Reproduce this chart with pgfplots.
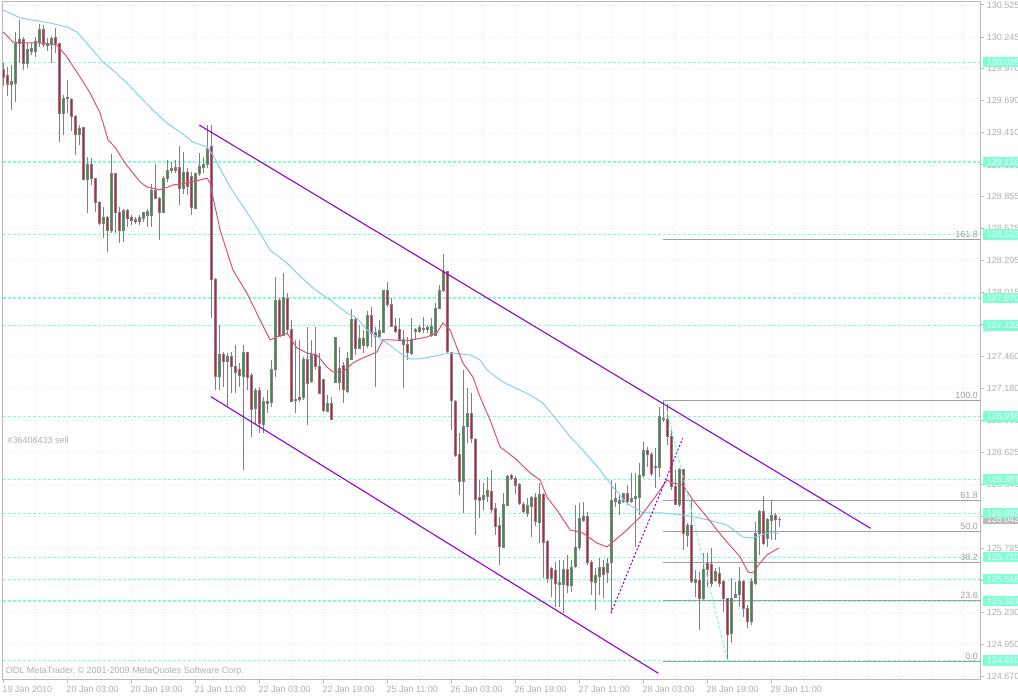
\documentclass[border=0pt]{standalone}
\usepackage{pgfplots}
\pgfplotsset{compat=1.18}
\usepackage{pgfplotstable}
\usepackage{fontspec}
\setmainfont{Liberation Sans}
\newcommand\lab{\fontsize{9bp}{10bp}\selectfont}
\definecolor{aqua}{RGB}{127,255,212}
\definecolor{wick}{RGB}{128,128,128}
\definecolor{bullc}{RGB}{50,150,60}
\definecolor{bearc}{RGB}{220,20,60}
\definecolor{maRed}{RGB}{220,80,120}
\definecolor{maBlue}{RGB}{135,206,235}
\definecolor{chan}{RGB}{148,0,211}
\definecolor{txt}{RGB}{175,175,175}
\definecolor{fibc}{RGB}{160,160,160}
\definecolor{frm}{RGB}{185,185,185}
\definecolor{gridc}{RGB}{232,232,232}

\pgfplotstableread{
k o h l c
2 129.836 130.002 129.610 129.854
3 129.842 130.293 129.682 130.191
4 130.191 130.395 130.017 130.220
6 130.017 130.191 129.973 130.139
7 130.118 130.191 130.089 130.147
8 130.118 130.249 130.075 130.203
9 130.197 130.360 130.162 130.313
11 130.174 130.235 130.127 130.191
12 130.182 130.255 130.022 130.235
15 129.581 129.739 129.392 129.711
16 129.708 129.871 129.581 129.720
19 129.392 129.479 129.304 129.450
21 128.999 129.203 128.714 129.130
25 128.616 128.761 128.490 128.674
27 128.557 129.223 128.540 129.052
30 128.557 128.743 128.461 128.732
34 128.636 128.694 128.607 128.674
35 128.665 128.723 128.636 128.717
36 128.691 128.746 128.592 128.726
37 128.691 128.964 128.592 128.903
40 128.717 129.037 128.708 129.014
41 129.014 129.174 128.985 129.081
42 129.081 129.159 129.057 129.095
43 129.081 129.174 129.057 129.110
45 128.927 129.246 128.877 129.066
48 128.752 129.063 128.743 129.057
49 129.057 129.232 129.034 129.116
50 129.107 129.203 129.057 129.130
51 129.130 129.478 129.101 129.275
54 127.284 127.735 127.168 127.473
56 127.415 127.488 127.023 127.459
60 127.284 127.560 126.470 127.493
63 127.008 127.182 126.863 127.159
65 126.871 127.109 126.790 127.066
67 127.057 127.430 127.023 127.342
68 127.348 128.156 127.284 127.944
70 127.647 128.185 127.647 127.975
73 127.072 127.604 126.964 127.086
75 127.100 127.459 127.080 127.430
77 127.240 127.604 127.232 127.473
81 126.978 127.124 126.978 127.051
83 127.232 127.633 127.232 127.627
84 127.232 127.545 127.168 127.357
86 127.153 127.502 127.139 127.444
87 127.435 127.871 127.430 127.778
89 127.531 127.735 127.531 127.618
90 127.554 127.691 127.488 127.618
91 127.554 127.859 127.531 127.821
94 127.633 127.778 127.633 127.682
95 127.670 128.039 127.662 128.031
100 127.566 127.691 127.182 127.609
102 127.482 127.793 127.473 127.609
103 127.676 127.705 127.604 127.691
104 127.676 127.735 127.662 127.711
105 127.691 127.807 127.662 127.705
107 127.647 127.793 127.633 127.720
108 127.647 127.923 127.647 127.880
109 127.880 128.083 127.871 128.039
110 128.034 128.351 128.025 128.199
115 126.368 127.341 126.091 126.847
116 126.847 127.182 126.702 126.964
120 126.214 126.353 126.121 126.251
121 126.237 126.411 126.193 126.289
125 125.795 126.266 125.786 126.173
126 126.164 126.426 126.155 126.417
131 126.091 126.222 126.062 126.164
132 126.150 126.243 125.888 126.231
134 126.010 126.353 125.830 126.260
139 125.475 125.685 125.278 125.487
140 125.472 125.685 125.219 125.603
142 125.466 125.685 125.408 125.621
143 125.626 126.164 125.612 125.795
144 125.795 126.179 125.772 126.048
145 126.033 126.193 126.019 126.062
148 125.487 125.612 125.249 125.554
149 125.545 125.699 125.379 125.621
151 125.574 125.699 125.481 125.655
152 125.661 126.382 125.219 126.202
153 126.194 126.353 126.150 126.223
154 126.179 126.252 126.077 126.208
155 126.194 126.272 126.179 126.266
157 126.199 126.441 126.179 126.223
158 126.223 126.441 125.801 126.237
159 126.231 126.528 126.077 126.426
160 126.426 126.717 126.397 126.644
163 126.490 126.659 126.310 126.499
164 126.493 127.022 126.412 126.935
165 126.906 127.072 126.891 126.920
169 126.165 126.484 126.150 126.470
171 125.903 126.005 125.801 125.990
173 125.490 125.598 125.365 125.511
175 125.351 125.743 125.336 125.598
178 125.510 125.612 125.496 125.583
182 125.045 125.525 124.958 125.350
183 125.359 125.496 125.350 125.388
184 125.388 125.626 125.278 125.496
187 125.147 125.525 125.118 125.496
188 125.481 126.019 125.467 125.918
189 125.918 126.121 125.729 126.106
191 125.874 126.048 125.801 126.034
192 126.028 126.208 125.859 126.069
}\bull

\pgfplotstableread{
k o h l c
0 129.964 130.022 129.819 129.895
1 129.906 129.988 129.732 129.836
5 130.220 130.249 129.959 130.017
10 130.313 130.351 130.162 130.177
13 130.243 130.322 130.104 130.191
14 130.185 130.197 129.334 129.581
17 129.697 129.711 129.429 129.552
18 129.552 129.566 129.217 129.392
20 129.459 129.464 128.999 128.999
22 129.136 129.188 128.956 129.008
23 129.014 129.020 128.723 128.804
24 128.804 128.816 128.607 128.621
26 128.674 128.685 128.374 128.557
28 129.052 129.052 128.534 128.714
29 128.714 128.767 128.453 128.557
31 128.732 128.743 128.592 128.665
32 128.674 128.694 128.607 128.645
33 128.650 128.679 128.616 128.636
38 128.906 129.136 128.831 128.839
39 128.839 128.854 128.476 128.717
44 129.110 129.296 128.781 128.927
46 129.066 129.101 128.868 128.941
47 129.028 129.072 128.694 128.761
52 129.290 129.478 127.793 128.133
53 128.133 128.140 127.168 127.284
55 127.473 127.502 127.197 127.415
57 127.459 127.502 127.139 127.371
58 127.371 127.560 127.139 127.319
59 127.342 127.400 127.197 127.290
61 127.493 127.502 127.168 127.278
62 127.290 127.319 126.761 126.999
64 127.159 127.197 126.790 126.877
66 127.066 127.168 126.964 127.051
69 127.944 127.967 127.633 127.633
71 127.967 128.010 127.662 127.691
72 127.691 127.778 127.066 127.066
74 127.100 127.604 127.066 127.086
76 127.430 127.720 126.863 127.226
78 127.473 127.720 127.342 127.371
79 127.371 127.488 127.139 127.139
80 127.255 127.255 126.978 126.993
82 127.051 127.109 126.906 126.906
85 127.385 127.415 127.051 127.168
88 127.784 127.807 127.473 127.531
92 127.821 127.894 127.545 127.662
93 127.670 127.720 127.197 127.638
96 128.031 128.112 127.894 127.909
97 127.909 127.967 127.720 127.720
98 127.720 127.793 127.662 127.676
99 127.691 127.793 127.604 127.604
101 127.560 127.633 127.430 127.493
106 127.711 127.735 127.662 127.691
111 128.199 128.208 127.488 127.502
112 127.493 127.502 126.818 127.080
113 127.071 127.080 126.586 126.600
114 126.609 126.789 126.251 126.368
117 126.964 127.138 126.702 126.746
118 126.737 126.746 125.903 126.214
119 126.228 126.382 126.048 126.208
122 126.280 126.469 126.091 126.126
123 126.135 126.179 125.903 125.981
124 125.987 126.062 125.641 125.801
127 126.423 126.435 126.382 126.397
128 126.397 126.417 126.260 126.339
129 126.339 126.353 126.164 126.179
130 126.173 126.193 126.091 126.106
133 126.231 126.266 125.981 126.019
135 126.260 126.266 125.525 125.836
136 125.850 125.859 125.481 125.525
137 125.612 125.626 125.365 125.525
138 125.597 125.670 125.278 125.481
141 125.603 125.728 125.394 125.466
146 126.062 126.106 125.641 125.661
147 125.664 125.685 125.379 125.496
150 125.621 125.685 125.350 125.562
156 126.266 126.339 126.165 126.194
161 126.636 126.673 126.499 126.601
162 126.601 126.630 126.418 126.441
166 126.906 127.045 126.688 126.761
167 126.761 126.819 126.295 126.324
168 126.330 126.470 126.165 126.165
170 126.470 126.476 125.772 125.918
172 125.990 126.208 125.481 125.496
174 125.505 125.583 125.074 125.351
176 125.656 125.743 125.452 125.598
177 125.650 125.787 125.452 125.481
179 125.568 125.626 125.452 125.481
180 125.496 125.510 125.234 125.350
181 125.350 125.350 124.796 125.039
185 125.496 125.510 125.190 125.263
186 125.263 125.292 125.089 125.147
190 126.106 126.243 125.816 125.830
193 126.069 126.092 125.859 126.040
194 126.040 126.057 125.970 126.034
}\bear

\pgfplotsset{
  candle/.style={draw=none, mark=none, forget plot,
    error bars/.cd, y dir=plus, y explicit, error mark=none,
    error bar style={draw=#1, line width=1bp}},
  body/.style 2 args={draw=none, mark=none, forget plot,
    error bars/.cd, y dir=plus, y explicit, error mark=none,
    error bar style={draw=#1, line width=#2}},
}

\begin{document}
\begin{tikzpicture}
\path[use as bounding box] (-2.5bp,-17bp) rectangle (1015.5bp,679bp);
\begin{axis}[
  at={(0,0)}, anchor=south west,
  scale only axis, width=977.5bp, height=677bp,
  xmin=-0.2, xmax=244.175, ymin=124.6472, ymax=130.5512,
  clip mode=individual,
  axis line style={frm, line width=1bp},
  tick style={frm, line width=1bp},
  tick align=outside, major tick length=4bp, minor tick length=0pt,
  xtick pos=bottom, ytick pos=right,
  xtick={0,16,...,192}, minor xtick={8,16,...,240},
  ytick={124.670,124.950,125.230,125.505,125.785,126.065,126.345,126.625,126.900,127.180,127.460,127.735,128.015,128.295,128.575,128.855,129.130,129.410,129.690,129.970,130.245,130.525},
  xticklabels={}, yticklabels={},
  xmajorgrids=false, xminorgrids=true, ymajorgrids=true,
  grid style={gridc, dash pattern=on 1bp off 2bp, line width=0.6bp},
  minor grid style={gridc, dash pattern=on 1bp off 2bp, line width=0.6bp},
]
% horizontal levels
\pgfplotsforeachungrouped \v in {130.026,129.156,128.523,127.970,127.732,126.936,126.387,126.093,125.710,125.518,125.327,124.810}{
  \edef\tmp{\noexpand\addplot[aqua, line width=1.1bp, dash pattern=on 3bp off 2bp, forget plot] coordinates {(-0.2,\v) (244.175,\v)};}\tmp
}
% fibonacci levels
\pgfplotsforeachungrouped \v in {128.479,127.072,126.203,125.934,125.665,125.333,124.796}{
  \edef\tmp{\noexpand\addplot[fibc, line width=1bp, forget plot] coordinates {(164.9,\v) (244.175,\v)};}\tmp
}
% wicks
\addplot[candle=wick] table[x=k, y=l, y error plus expr=\thisrow{h}-\thisrow{l}] {\bull};
\addplot[candle=wick] table[x=k, y=l, y error plus expr=\thisrow{h}-\thisrow{l}] {\bear};
% bodies outer
\addplot[body={wick}{3.2bp}] table[x=k, y expr=\thisrow{o}-0.0044, y error plus expr=\thisrow{c}-\thisrow{o}+0.0088] {\bull};
\addplot[body={wick}{3.2bp}] table[x=k, y expr=\thisrow{c}-0.0044, y error plus expr=\thisrow{o}-\thisrow{c}+0.0088] {\bear};
% bodies inner
\addplot[body={bullc}{1.5bp}] table[x=k, y expr=\thisrow{o}+0.0044, y error plus expr={max(\thisrow{c}-\thisrow{o}-0.0088,0)}] {\bull};
\addplot[body={bearc}{1.5bp}] table[x=k, y expr=\thisrow{c}+0.0044, y error plus expr={max(\thisrow{o}-\thisrow{c}-0.0088,0)}] {\bear};
% moving averages
\addplot[maBlue, line width=1bp, forget plot] coordinates {
(0,130.481)(4.2,130.412)(11.7,130.368)(15.9,130.333)(18.4,130.290)(21.7,130.159)(24.9,130.028)(27.4,129.958)(30.9,129.845)(34.2,129.723)(37.4,129.609)(40.9,129.496)(44.2,129.417)(47.4,129.330)(50.9,129.287)(52.4,129.217)(56.7,128.938)(61.7,128.676)(64.2,128.537)(66.7,128.388)(70.9,128.275)(73.4,128.188)(77.4,128.057)(81.7,127.952)(85.9,127.839)(88.4,127.795)(90.9,127.691)(95.9,127.577)(99.2,127.490)(101.7,127.438)(104.2,127.438)(109.2,127.473)(111.7,127.490)(116.7,127.473)(119.2,127.429)(120.9,127.342)(124.9,127.237)(131.7,127.124)(134.9,127.054)(138.4,126.906)(141.7,126.758)(144.9,126.644)(149.2,126.470)(152.4,126.321)(155.9,126.179)(159.9,126.095)(164.9,126.095)(169.9,126.077)(174.2,126.051)(180.9,125.990)(184.9,125.886)(187.4,125.877)(190.9,125.920)(193.9,125.920)};
\addplot[maRed, line width=1bp, forget plot] coordinates {
(0,130.290)(2.4,130.202)(5.9,130.194)(9.2,130.194)(13.4,130.176)(15.9,130.072)(19.2,129.897)(21.7,129.758)(24.2,129.583)(26.2,129.348)(27.9,129.287)(30.4,129.147)(34.2,128.982)(35.9,128.938)(39.2,128.912)(42.4,128.955)(45.9,128.973)(49.2,128.999)(50.9,129.016)(51.7,128.973)(52.4,128.851)(54.2,128.563)(57.4,128.214)(60.9,128.013)(64.2,127.778)(66.7,127.604)(68.4,127.630)(70.9,127.665)(73.4,127.534)(75.9,127.490)(78.4,127.473)(80.9,127.368)(82.4,127.325)(84.9,127.325)(87.4,127.403)(89.9,127.447)(93.4,127.499)(94.9,127.604)(97.4,127.604)(100.9,127.595)(103.4,127.613)(105.9,127.630)(108.4,127.665)(109.9,127.752)(111.7,127.691)(114.9,127.403)(117.4,127.281)(119.2,127.106)(121.7,126.906)(124.2,126.670)(125.9,126.627)(128.4,126.557)(131.7,126.444)(134.2,126.383)(135.9,126.234)(138.4,126.121)(141.7,125.947)(144.9,125.920)(148.4,125.833)(150.9,125.799)(152.4,125.842)(155.9,125.947)(159.2,126.060)(162.4,126.208)(164.2,126.295)(165.9,126.383)(167.2,126.357)(169.9,126.339)(172.4,126.208)(175.9,126.060)(178.4,125.947)(180.9,125.842)(184.2,125.713)(186.2,125.580)(187.4,125.572)(189.2,125.659)(190.9,125.729)(193.9,125.790)};
% channel and trend lines
\addplot[chan, line width=1.1bp, forget plot] coordinates {(49.0,129.478)(216.85,125.961)};
\addplot[chan, line width=1.1bp, forget plot] coordinates {(51.9,127.109)(163.75,124.697)};
\addplot[chan, line width=1.1bp, dash pattern=on 2bp off 2bp, forget plot] coordinates {(151.9,125.220)(169.85,126.746)};
\addplot[aqua, line width=1.1bp, dash pattern=on 3bp off 2bp, forget plot] coordinates {(165.4,127.063)(181.1,124.798)};
% texts
\node[font=\lab, text=txt, anchor=west, inner sep=0pt] at (axis cs:1.0,126.727) {\#36406433 sell};
\node[font=\lab, text=txt, anchor=west, inner sep=0pt] at (axis cs:0.6,124.715) {ODL MetaTrader, © 2001-2009 MetaQuotes Software Corp.};
% fib labels
\node[font=\lab, text=fibc, anchor=south east, inner sep=0pt, xshift=-2bp, yshift=2bp] at (axis cs:244.175,128.479) {161.8};
\node[font=\lab, text=fibc, anchor=south east, inner sep=0pt, xshift=-2bp, yshift=2bp] at (axis cs:244.175,127.072) {100.0};
\node[font=\lab, text=fibc, anchor=south east, inner sep=0pt, xshift=-2bp, yshift=2bp] at (axis cs:244.175,126.203) {61.8};
\node[font=\lab, text=fibc, anchor=south east, inner sep=0pt, xshift=-2bp, yshift=2bp] at (axis cs:244.175,125.934) {50.0};
\node[font=\lab, text=fibc, anchor=south east, inner sep=0pt, xshift=-2bp, yshift=2bp] at (axis cs:244.175,125.665) {38.2};
\node[font=\lab, text=fibc, anchor=south east, inner sep=0pt, xshift=-2bp, yshift=2bp] at (axis cs:244.175,125.333) {23.6};
\node[font=\lab, text=fibc, anchor=south east, inner sep=0pt, xshift=-2bp, yshift=2bp] at (axis cs:244.175,124.796) {0.0};
% right price labels
\pgfplotsforeachungrouped \v in {124.670,124.950,125.230,125.505,125.785,126.065,126.345,126.625,126.900,127.180,127.460,127.735,128.015,128.295,128.575,128.855,129.130,129.410,129.690,129.970,130.245,130.525}{
  \edef\tmp{\noexpand\node[font=\noexpand\lab, text=txt, anchor=west, inner sep=0pt, xshift=6.7bp] at (axis cs:244.175,\v) {\v};}\tmp
}
\node[font=\lab, text=white, fill=frm, anchor=west, inner xsep=4bp, inner ysep=0pt, minimum height=10.5bp, xshift=2.7bp] at (axis cs:244.175,126.042) {126.042};
\pgfplotsforeachungrouped \v in {130.026,129.156,128.523,127.970,127.732,126.936,126.387,126.093,125.710,125.518,125.327,124.810}{
  \edef\tmp{\noexpand\node[font=\noexpand\lab, text=white, fill=aqua, anchor=west, inner xsep=4bp, inner ysep=0pt, minimum height=10.5bp, xshift=2.7bp] at (axis cs:244.175,\v) {\v};}\tmp
}
% bottom time labels
\node[font=\lab, text=txt, anchor=north west, inner sep=0pt, xshift=-1bp, yshift=-7.5bp] at (axis cs:0,124.6472) {19 Jan 2010};
\node[font=\lab, text=txt, anchor=north west, inner sep=0pt, xshift=-1bp, yshift=-7.5bp] at (axis cs:16,124.6472) {20 Jan 03:00};
\node[font=\lab, text=txt, anchor=north west, inner sep=0pt, xshift=-1bp, yshift=-7.5bp] at (axis cs:32,124.6472) {20 Jan 19:00};
\node[font=\lab, text=txt, anchor=north west, inner sep=0pt, xshift=-1bp, yshift=-7.5bp] at (axis cs:48,124.6472) {21 Jan 11:00};
\node[font=\lab, text=txt, anchor=north west, inner sep=0pt, xshift=-1bp, yshift=-7.5bp] at (axis cs:64,124.6472) {22 Jan 03:00};
\node[font=\lab, text=txt, anchor=north west, inner sep=0pt, xshift=-1bp, yshift=-7.5bp] at (axis cs:80,124.6472) {22 Jan 19:00};
\node[font=\lab, text=txt, anchor=north west, inner sep=0pt, xshift=-1bp, yshift=-7.5bp] at (axis cs:96,124.6472) {25 Jan 11:00};
\node[font=\lab, text=txt, anchor=north west, inner sep=0pt, xshift=-1bp, yshift=-7.5bp] at (axis cs:112,124.6472) {26 Jan 03:00};
\node[font=\lab, text=txt, anchor=north west, inner sep=0pt, xshift=-1bp, yshift=-7.5bp] at (axis cs:128,124.6472) {26 Jan 19:00};
\node[font=\lab, text=txt, anchor=north west, inner sep=0pt, xshift=-1bp, yshift=-7.5bp] at (axis cs:144,124.6472) {27 Jan 11:00};
\node[font=\lab, text=txt, anchor=north west, inner sep=0pt, xshift=-1bp, yshift=-7.5bp] at (axis cs:160,124.6472) {28 Jan 03:00};
\node[font=\lab, text=txt, anchor=north west, inner sep=0pt, xshift=-1bp, yshift=-7.5bp] at (axis cs:176,124.6472) {28 Jan 19:00};
\node[font=\lab, text=txt, anchor=north west, inner sep=0pt, xshift=-1bp, yshift=-7.5bp] at (axis cs:192,124.6472) {29 Jan 11:00};
\end{axis}
\end{tikzpicture}
\end{document}
